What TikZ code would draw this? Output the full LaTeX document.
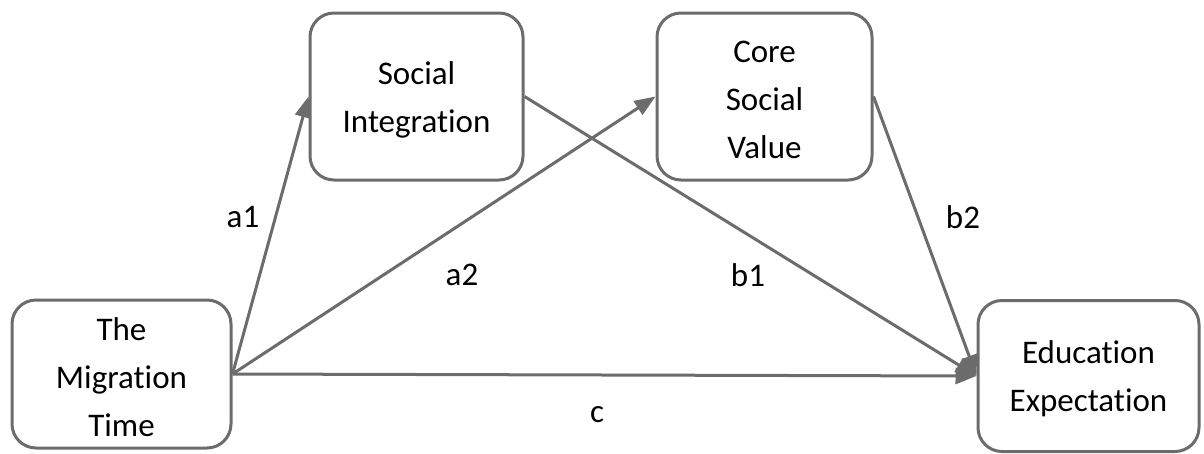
\documentclass[tikz,border=0pt]{standalone}
\usepackage{fontspec}
\setmainfont[Ligatures=NoCommon]{Carlito}
\usetikzlibrary{arrows.meta}
\definecolor{edgegray}{RGB}{108,108,108}
\begin{document}
\begin{tikzpicture}[x=1pt,y=-1pt,
  varbox/.style={draw=edgegray,line width=3pt,rounded corners=24pt,fill=white,
    align=center,inner sep=0pt,font=\fontsize{33}{48}\selectfont},
  path/.style={draw=edgegray,line width=3pt,-{Triangle[length=21pt,width=16pt]}},
  lbl/.style={font=\fontsize{33}{40}\selectfont,inner sep=0pt}]
\useasboundingbox (0,0) rectangle (1204,453);
% variables
\node[varbox,minimum width=219pt,minimum height=148pt] (mig) at (121.5,374) {\rule{0pt}{29pt}The\\Migration\\Time};
\node[varbox,minimum width=213pt,minimum height=167pt] (soc) at (416.5,96.5) {\rule{0pt}{29pt}Social\\Integration};
\node[varbox,minimum width=215pt,minimum height=167pt] (core) at (764.5,96.5) {\rule{0pt}{29pt}Core\\Social\\Value};
\node[varbox,minimum width=221pt,minimum height=151pt] (edu) at (1088.5,376) {\rule{0pt}{29pt}Education\\Expectation};
% paths
\draw[path] (mig.east) -- (soc.west);
\draw[path] (mig.east) -- (core.west);
\draw[path] (mig.east) -- (edu.west);
\draw[path] (soc.east) -- (edu.west);
\draw[path] (core.east) -- (edu.west);
% path labels
\node[lbl] (la1) at (243,217) {a1};
\node[lbl] (la2) at (462,275) {a2};
\node[lbl] (lb1) at (748,275) {b1};
\node[lbl] (lb2) at (963,217) {b2};
\node[lbl] (lc) at (597,415) {c};
\end{tikzpicture}
\end{document}
